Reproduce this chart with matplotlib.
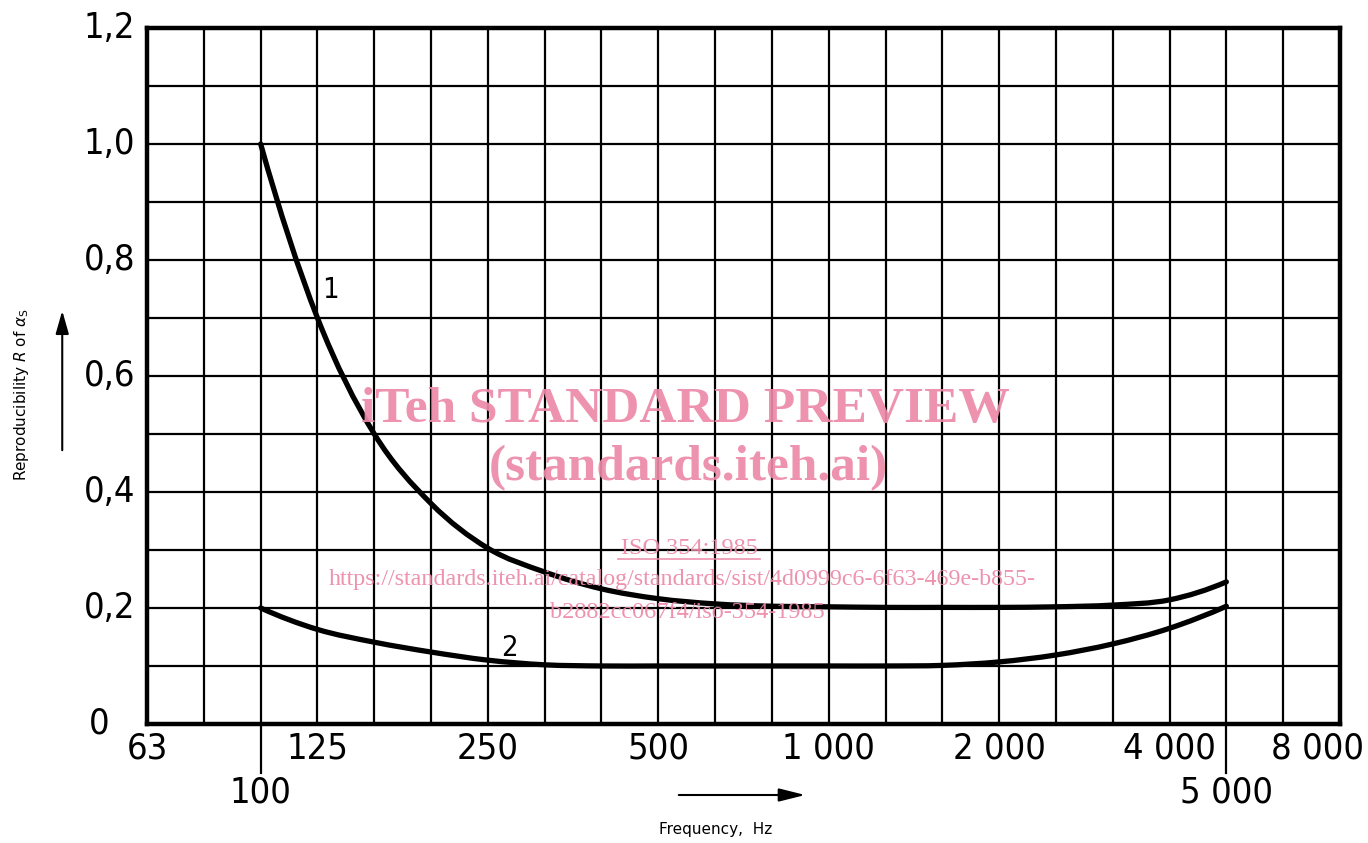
import os
import numpy as np
import matplotlib
matplotlib.use("Agg")
import matplotlib.pyplot as plt
import matplotlib.transforms as mtransforms
from matplotlib import font_manager as fm
from matplotlib.path import Path
from matplotlib.patches import PathPatch, FancyArrowPatch

# third-octave band centres shown on the grid (nominal values)
bands = [63, 80, 100, 125, 160, 200, 250, 315, 400, 500, 630, 800,
         1000, 1250, 1600, 2000, 2500, 3150, 4000, 5000, 6300, 8000]
tick_top = [63, 125, 250, 500, 1000, 2000, 4000, 8000]
tick_top_labels = ["63", "125", "250", "500", "1 000", "2 000", "4 000", "8 000"]
tick_low = [100, 5000]
tick_low_labels = ["100", "5 000"]
y_ticks = [0, 0.2, 0.4, 0.6, 0.8, 1.0, 1.2]
y_tick_labels = ["0", "0,2", "0,4", "0,6", "0,8", "1,0", "1,2"]

# curve 1 at the band centres
f1 = [100, 125, 160, 200, 250, 315, 400, 500, 630, 800, 1000, 1250,
      1600, 2000, 2500, 3150, 4000, 5000]
r1 = [1.0, 0.70, 0.50, 0.38, 0.303, 0.262, 0.233, 0.216, 0.207, 0.203,
      0.202, 0.201, 0.201, 0.201, 0.202, 0.205, 0.214, 0.245]
# curve 2
f2 = [100, 125, 160, 200, 250, 315, 400, 500, 630, 800, 1000, 1250,
      1600, 2000, 2500, 3150, 4000, 5000]
r2 = [0.2, 0.163, 0.141, 0.124, 0.11, 0.102, 0.1, 0.1, 0.1, 0.1,
      0.1, 0.1, 0.101, 0.107, 0.119, 0.138, 0.165, 0.203]


def exact(f):
    # nominal band values sit on the exact third-octave positions
    f = np.asarray(f, dtype=float)
    k = np.round(3 * np.log2(f / 1000))
    fe = 1000 * 2 ** (k / 3)
    return np.where(np.abs(np.log(f / fe)) < 0.03, fe, f)


def smooth_path(f, r):
    # hand-drawn look: cubic segments through the read points (log-x space)
    u = np.log2(exact(f))
    r = np.asarray(r, dtype=float)
    n = len(u)
    d = np.diff(r) / np.diff(u)
    m = np.empty(n)
    m[1:-1] = (r[2:] - r[:-2]) / (u[2:] - u[:-2])
    m[0] = 2 * d[0] - m[1]
    m[-1] = 2 * d[-1] - m[-2]
    verts = [(u[0], r[0])]
    codes = [Path.MOVETO]
    for i in range(n - 1):
        h = u[i + 1] - u[i]
        verts += [(u[i] + h / 3, r[i] + m[i] * h / 3),
                  (u[i + 1] - h / 3, r[i + 1] - m[i + 1] * h / 3),
                  (u[i + 1], r[i + 1])]
        codes += [Path.CURVE4] * 3
    verts = np.array(verts)
    verts[:, 0] = 2 ** verts[:, 0]
    return Path(verts, codes)


def narrow_font():
    pref = ["LiberationSansNarrow-Regular", "DejaVuSansCondensed.",
            "RobotoCondensed-Regular", "NotoSans-Condensed.",
            "NotoSans-CondensedRegular", "OpenSans_Condensed-Regular",
            "OpenSans-CondensedRegular"]
    files = [f.fname for f in fm.fontManager.ttflist]
    for p in pref:
        for fn in files:
            if p in os.path.basename(fn):
                return fm.FontProperties(fname=fn), 26
    return fm.FontProperties(family="DejaVu Sans"), 22


num_fp, num_size = narrow_font()
pink = "#ec89a8"

fig = plt.figure(figsize=(13.68, 8.43), dpi=100)
ax = fig.add_axes([0.1075, 0.1412, 0.872, 0.8256])

ax.set_xscale("log", base=2)
ax.set_xlim(exact(63), exact(8000))
ax.set_ylim(0, 1.2)

# grid
for f in exact(bands):
    ax.axvline(f, color="black", lw=1.6, zorder=1)
for y in np.arange(0.1, 1.2, 0.1):
    ax.axhline(y, color="black", lw=1.6, zorder=1)

for s in ax.spines.values():
    s.set_linewidth(3.2)
    s.set_zorder(3)

ax.set_xticks([])
ax.set_yticks([])
ax.minorticks_off()
ax.tick_params(which="both", length=0)

# curves
for f, r in [(f1, r1), (f2, r2)]:
    ax.add_patch(PathPatch(smooth_path(f, r), facecolor="none",
                           edgecolor="black", lw=3.8, capstyle="round",
                           joinstyle="round", zorder=4))
ax.text(exact(125) * 1.02, 0.735, "1", fontproperties=num_fp, fontsize=21)
ax.text(exact(250) * 1.055, 0.118, "2", fontproperties=num_fp, fontsize=21)

# tick labels drawn by hand (two rows on the x axis)
xt = mtransforms.blended_transform_factory(ax.transData, ax.transAxes)
for f, lab in zip(tick_top, tick_top_labels):
    dx = -22 if f == 8000 else 0
    ax.annotate(lab, (exact(f), 0), xycoords=xt, xytext=(dx, -8),
                textcoords="offset pixels", ha="center", va="top",
                fontproperties=num_fp, fontsize=num_size,
                annotation_clip=False)
for f, lab in zip(tick_low, tick_low_labels):
    ax.plot([exact(f), exact(f)], [0, -0.07], transform=xt, color="black",
            lw=1.6, clip_on=False)
    ax.annotate(lab, (exact(f), 0), xycoords=xt, xytext=(0, -52),
                textcoords="offset pixels", ha="center", va="top",
                fontproperties=num_fp, fontsize=num_size,
                annotation_clip=False)
for y, lab in zip(y_ticks, y_tick_labels):
    dx = -38 if lab == "0" else -12
    ax.annotate(lab, (0, y), xycoords=("axes fraction", "data"),
                xytext=(dx, 0), textcoords="offset pixels", ha="right",
                va="center", fontproperties=num_fp, fontsize=num_size,
                annotation_clip=False)

# axis titles with arrows
fig.text(0.016, 0.532, r"Reproducibility $R$ of $\alpha_\mathrm{S}$",
         rotation=90, ha="center", va="center", fontsize=11)
fig.add_artist(FancyArrowPatch(
    (0.0455, 1 - 453 / 843), (0.0455, 1 - 308 / 843), transform=fig.transFigure,
    arrowstyle="-|>,head_length=14,head_width=4", lw=1.5, color="black"))
fig.text(0.523, 0.016, "Frequency,  Hz", ha="center", va="center", fontsize=11)
fig.add_artist(FancyArrowPatch(
    (676 / 1368, 1 - 795 / 843), (808 / 1368, 1 - 795 / 843),
    transform=fig.transFigure,
    arrowstyle="-|>,head_length=16,head_width=4", lw=1.5, color="black"))

# watermark
wm = dict(ha="center", va="center", color=pink, alpha=0.92, zorder=6,
          family=["Liberation Serif", "DejaVu Serif"])
fig.text(0.501, 1 - 410 / 843, "iTeh STANDARD PREVIEW", fontsize=37,
         weight="bold", **wm)
fig.text(0.503, 1 - 468 / 843, "(standards.iteh.ai)", fontsize=37,
         weight="bold", **wm)
fig.text(0.504, 1 - 548 / 843, "ISO 354:1985", fontsize=17.5, **wm)
fig.add_artist(matplotlib.lines.Line2D([618 / 1368, 760 / 1368],
                                       [1 - 559 / 843, 1 - 559 / 843],
                                       color=pink, lw=1.2, alpha=0.92))
fig.text(0.4985, 1 - 580 / 843,
         "https://standards.iteh.ai/catalog/standards/sist/4d0999c6-6f63-469e-b855-",
         fontsize=17.3, **wm)
fig.text(0.5025, 1 - 612 / 843, "b2882cc067f4/iso-354-1985", fontsize=17.5,
         **wm)

fig.savefig("out.png", dpi=100)
